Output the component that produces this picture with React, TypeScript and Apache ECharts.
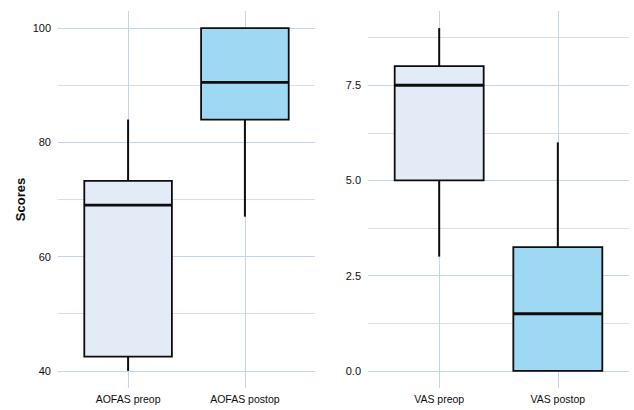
import React, { useEffect, useRef } from "react";
import * as echarts from "echarts";

// ---- data ----
const aofasCategories = ["AOFAS preop", "AOFAS postop"];
const vasCategories = ["VAS preop", "VAS postop"];
// [position, min, Q1, median, Q3, max]
const aofasBoxes = [
  [1, 40, 42.5, 69, 73.25, 84],
  [2, 67, 84, 90.5, 100, 100],
];
const vasBoxes = [
  [1, 3, 5, 7.5, 8, 9],
  [2, 0, 0, 1.5, 3.25, 6],
];
const aofasMajorTicks = [40, 60, 80, 100];
const aofasGridTicks = [40, 50, 60, 70, 80, 90, 100];
const vasMajorTicks = [0, 2.5, 5, 7.5];
const vasGridTicks = [0, 1.25, 2.5, 3.75, 5, 6.25, 7.5, 8.75];
const boxFills = ["#e3ebf6", "#9fd8f2"];

const FONT = "Liberation Sans, Arial, sans-serif";
const GRID_MAJOR = "#c3d4ed";
const GRID_MINOR = "#d4e0f1";

function renderBox(params: any, api: any) {
  const x = api.value(0);
  const lo = api.coord([x, api.value(1)]);
  const q1 = api.coord([x, api.value(2)]);
  const med = api.coord([x, api.value(3)]);
  const q3 = api.coord([x, api.value(4)]);
  const hi = api.coord([x, api.value(5)]);
  const w = api.size([0.75, 0])[0];
  const cx = q1[0];
  const stroke = "#0d0d0d";
  return {
    type: "group",
    children: [
      { type: "line", shape: { x1: cx, y1: q3[1], x2: cx, y2: hi[1] }, style: { stroke, lineWidth: 2 } },
      { type: "line", shape: { x1: cx, y1: lo[1], x2: cx, y2: q1[1] }, style: { stroke, lineWidth: 2 } },
      {
        type: "rect",
        shape: { x: cx - w / 2, y: q3[1], width: w, height: q1[1] - q3[1] },
        style: { fill: boxFills[params.dataIndex], stroke, lineWidth: 1.8 },
      },
      { type: "line", shape: { x1: cx - w / 2, y1: med[1], x2: cx + w / 2, y2: med[1] }, style: { stroke, lineWidth: 2.8 } },
    ],
  };
}

function xAxisFor(gridIndex: number, cats: string[]) {
  return {
    type: "value",
    gridIndex,
    min: 0.4,
    max: 2.6,
    axisLine: { show: false },
    axisTick: { show: false, customValues: [1, 2] },
    axisLabel: {
      customValues: [1, 2],
      formatter: (v: number) => cats[Math.round(v) - 1] || "",
      color: "#0d0d0d",
      fontFamily: FONT,
      fontSize: 10.5,
      margin: 5,
    },
    splitLine: { show: true, lineStyle: { color: GRID_MAJOR, width: 1 } },
  };
}

function yAxisFor(gridIndex: number, min: number, max: number, major: number[], all: number[], fmt: (v: number) => string, name: string) {
  return {
    type: "value",
    gridIndex,
    min,
    max,
    name,
    nameLocation: "middle",
    nameGap: 31,
    nameTextStyle: { fontFamily: FONT, fontSize: 13, fontWeight: "bold", color: "#0d0d0d" },
    axisLine: { show: false },
    axisTick: { show: false, customValues: all },
    axisLabel: {
      customValues: major,
      formatter: fmt,
      color: "#0d0d0d",
      fontFamily: FONT,
      fontSize: 11,
      margin: 7,
    },
    splitLine: { show: true, lineStyle: { color: [GRID_MAJOR, GRID_MINOR], width: 1 } },
  };
}

export default function App() {
  const ref = useRef<HTMLDivElement>(null);
  useEffect(() => {
    if (!ref.current) return;
    const chart = echarts.init(ref.current, null, { renderer: "svg" });
    chart.setOption({
      animation: false,
      backgroundColor: "#ffffff",
      grid: [
        { left: 58, top: 11, width: 257, height: 377 },
        { left: 368, top: 11, width: 261, height: 377 },
      ],
      xAxis: [xAxisFor(0, aofasCategories), xAxisFor(1, vasCategories)],
      yAxis: [
        yAxisFor(0, 37, 103, aofasMajorTicks, aofasGridTicks, (v) => String(v), "Scores"),
        yAxisFor(1, -0.45, 9.45, vasMajorTicks, vasGridTicks, (v) => v.toFixed(1), ""),
      ],
      series: [
        { type: "custom", xAxisIndex: 0, yAxisIndex: 0, data: aofasBoxes, renderItem: renderBox },
        { type: "custom", xAxisIndex: 1, yAxisIndex: 1, data: vasBoxes, renderItem: renderBox },
      ],
    });
    return () => chart.dispose();
  }, []);
  return (
    <div
      ref={ref}
      style={{ position: "fixed", left: 0, top: 0, width: 634, height: 410 }}
    />
  );
}
